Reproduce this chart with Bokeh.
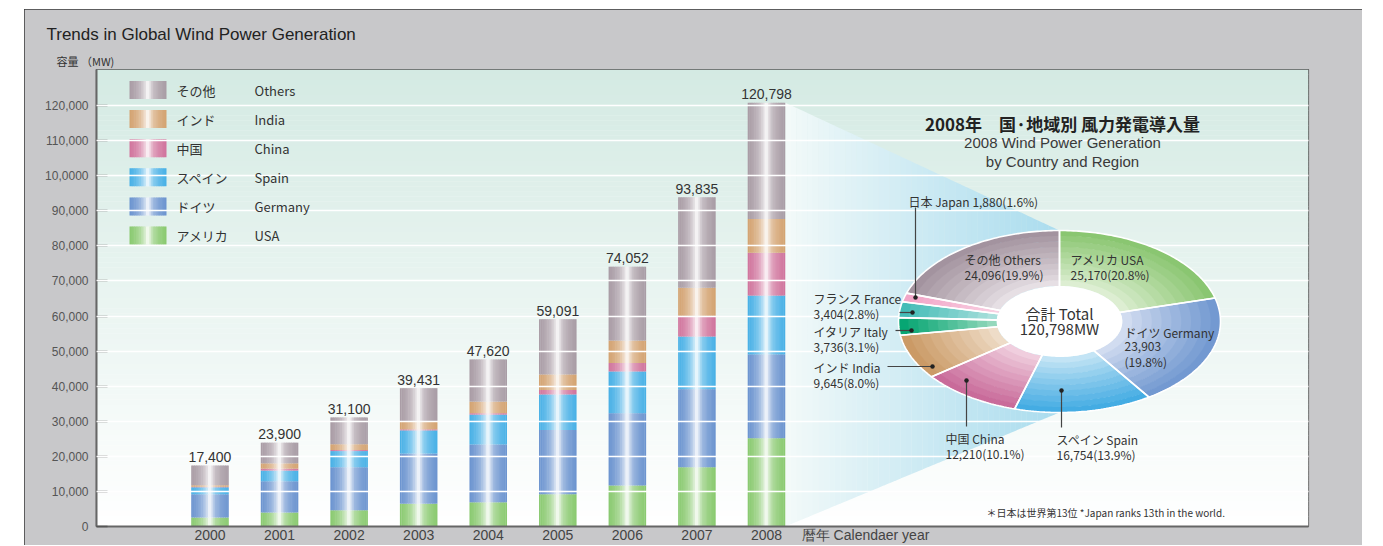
import numpy as np
from bokeh.plotting import figure
from bokeh.models import Range1d, FixedTicker, Title
from bokeh.core.properties import value
from bokeh.embed import file_html
from bokeh.resources import INLINE

# ---------------- data ----------------
years = [2000, 2001, 2002, 2003, 2004, 2005, 2006, 2007, 2008]
totals = [17400, 23900, 31100, 39431, 47620, 59091, 74052, 93835, 120798]
usa = [2600, 4000, 4600, 6500, 6900, 9200, 11700, 16900, 25170]
germany = [6600, 8900, 12300, 14300, 16500, 18300, 20600, 22250, 23903]
spain = [2000, 3050, 4600, 6600, 8500, 10150, 11900, 15000, 16754]
china = [150, 550, 300, 300, 400, 1250, 2400, 5900, 12210]
india = [400, 1500, 1650, 2300, 3300, 4450, 6400, 8000, 9645]
others = [t - (a + b + c + d + e) for t, a, b, c, d, e in zip(totals, usa, germany, spain, china, india)]

series_ja = ["アメリカ", "ドイツ", "スペイン", "中国", "インド", "その他"]
series_en = ["USA", "Germany", "Spain", "China", "India", "Others"]

pie_ja = ["アメリカ", "ドイツ", "スペイン", "中国", "インド", "イタリア", "フランス", "日本", "その他"]
pie_en = ["USA", "Germany", "Spain", "China", "India", "Italy", "France", "Japan", "Others"]
pie_mw = [25170, 23903, 16754, 12210, 9645, 3736, 3404, 1880, 24096]
pie_pct = [20.8, 19.8, 13.9, 10.1, 8.0, 3.1, 2.8, 1.6, 19.9]
pie_total = 120798

y_ticks = [0, 10000, 20000, 30000, 40000, 50000, 60000, 70000, 80000, 90000, 100000, 110000, 120000]
y_tick_labels = ["0", "10,000", "20,000", "30,000", "40,000", "50,000", "60,000", "70,000",
                 "80,000", "90,000", "10,0000", "110,000", "120,000"]
x_axis_title = "暦年  Calendaer year"

# ---------------- styles ----------------
bar_colors = ["#89c96f", "#6a93cf", "#47b0e6", "#d0739c", "#d3a270", "#a89ba4"]
pie_outer = ["#86c46c", "#6e96cf", "#3ea9e2", "#c76697", "#c99761", "#00a36f", "#3fbab5", "#f1a3c6", "#a08f9b"]
pie_inner = ["#e3f1d9", "#d8e1f2", "#cde8f6", "#f3d6e3", "#f1e1cf", "#9fdcc2", "#b3e3df", "#f9d3e4", "#ebe5e9"]

JP = "Noto Sans CJK JP"
SANS = "Liberation Sans"

W, H = 1338, 536
PX0, PY0 = 25, 10
FL, FR, FT, FB = 97, 1309, 70, 527
STEP = 69.56
X2000 = 210.5
BW = 0.54
K = 421.0 / 120000.0

x_start = years[0] - (X2000 - FL) / STEP
x_end = x_start + (FR - FL) / STEP
y_end = (FB - FT) / K


def page_x(xv):
    return FL + (xv - x_start) * STEP


def page_y(v):
    return FB - v * K


def hex2rgb(c):
    return np.array([int(c[i:i + 2], 16) for i in (1, 3, 5)], dtype=float)


def mix(c1, c2, f):
    a, b = hex2rgb(c1), hex2rgb(c2)
    r = a + (b - a) * f
    return "#%02x%02x%02x" % tuple(int(round(v)) for v in r)


p = figure(width=W, height=H, x_range=Range1d(x_start, x_end), y_range=Range1d(0, y_end),
           output_backend="svg", toolbar_location=None,
           min_border_left=FL - PX0, min_border_right=PX0 + W - FR,
           min_border_top=FT - PY0, min_border_bottom=PY0 + H - FB,
           background_fill_color="white", border_fill_color="#c8c8ca")
p.margin = (9, 0, -8, 24)
p.styles = {"outline": "1px solid #3a3a3a", "outline-offset": "-1px"}
p.extra_x_ranges = {"px": Range1d(FL, FR)}
p.extra_y_ranges = {"py": Range1d(FB, FT)}
PXY = dict(x_range_name="px", y_range_name="py")

# background vertical gradient
nb = 90
ys = np.linspace(FT, FB, nb + 1)
bg_cols = [mix("#d4eae3", "#ffffff", (k + 0.5) / nb) for k in range(nb)]
p.quad(left=FL, right=FR, top=ys[:-1], bottom=ys[1:] + 0.3, fill_color=bg_cols, line_color=None,
       level="image", **PXY)

# ---------------- pie geometry ----------------
CX, CY, RX, RY = 1060.0, 322.0, 161.0, 91.0
INNER = 0.39

# fan from the 2008 bar to the pie
fx0 = page_x(years[-1] + BW / 2)
fy_top0, fy_bot0 = page_y(totals[-1]), page_y(0)
fx1, fy_top1, fy_bot1 = CX, CY - RY, CY + RY
nf = 50
fxs, fys, fcs = [], [], []
for k in range(nf):
    ta = k / nf
    tb = min((k + 1.05) / nf, 1.0)
    xa, xb = fx0 + (fx1 - fx0) * ta, fx0 + (fx1 - fx0) * tb
    ua, ub = fy_top0 + (fy_top1 - fy_top0) * ta, fy_top0 + (fy_top1 - fy_top0) * tb
    la, lb = fy_bot0 + (fy_bot1 - fy_bot0) * ta, fy_bot0 + (fy_bot1 - fy_bot0) * tb
    fxs.append([xa, xb, xb, xa])
    fys.append([ua, ub, lb, la])
    fcs.append(mix("#f4faf9", "#aadcee", ((k + 0.5) / nf) ** 0.9))
p.patches(fxs, fys, fill_color=fcs, line_color=None, level="underlay", **PXY)

# ---------------- stacked gradient bars ----------------
ctrl_t = [0.0, 0.15, 0.3, 0.42, 0.5, 0.56, 0.65, 0.8, 1.0]
ctrl_w = [0.0, 0.12, 0.32, 0.62, 0.97, 0.7, 0.35, 0.15, 0.0]
NS = 22
tp = (np.arange(NS) + 0.5) / NS
wprof = np.interp(tp, ctrl_t, ctrl_w)

stack = [usa, germany, spain, china, india, others]
bx, bw, bb, bt, bc = [], [], [], [], []
for i, yr in enumerate(years):
    base = 0
    for s, vals in enumerate(stack):
        v = vals[i]
        for j in range(NS):
            bx.append(yr - BW / 2 + (j + 0.5) * BW / NS)
            bw.append(BW / NS * 1.35 if 0 < j < NS - 1 else BW / NS)
            bb.append(base)
            bt.append(base + v)
            bc.append(mix(bar_colors[s], "#ffffff", wprof[j]))
        base += v
p.vbar(x=bx, width=bw, bottom=bb, top=bt, fill_color=bc, line_color=None)

# totals above bars
p.text(x=years, y=[t + 3.5 / K for t in totals], text=[f"{t:,}" for t in totals],
       text_align="center", text_baseline="bottom", text_font=value(SANS),
       text_font_size="14px", text_color="#333333", level="overlay")

# ---------------- legend (manual, gradient swatches) ----------------
leg_y0, leg_dy = 90.5, 29.1
sw_l, sw_r, sw_h = 130.0, 167.0, 18.0
lx, lw, lt, lbm, lc = [], [], [], [], []
order = list(reversed(range(len(series_en))))
for r, s in enumerate(order):
    cy = leg_y0 + r * leg_dy
    for j in range(NS):
        lx.append(sw_l + (j + 0.5) * (sw_r - sw_l) / NS)
        lw.append((sw_r - sw_l) / NS * (1.35 if 0 < j < NS - 1 else 1.0))
        lt.append(cy - sw_h / 2)
        lbm.append(cy + sw_h / 2)
        lc.append(mix(bar_colors[s], "#ffffff", wprof[j]))
p.vbar(x=lx, width=lw, top=lt, bottom=lbm, fill_color=lc, line_color=None, **PXY)
p.text(x=[177] * 6, y=[leg_y0 + r * leg_dy for r in range(6)], text=[series_ja[s] for s in order],
       text_baseline="middle", text_font=value(JP), text_font_size="13px", text_color="#333333",
       level="overlay", **PXY)
p.text(x=[255] * 6, y=[leg_y0 + r * leg_dy for r in range(6)], text=[series_en[s] for s in order],
       text_baseline="middle", text_font=value(JP), text_font_size="13px", text_color="#333333",
       level="overlay", **PXY)

# ---------------- donut (elliptical) ----------------
cum = np.concatenate([[0], np.cumsum(pie_mw)]) / float(sum(pie_mw)) * 2 * np.pi
NR = 10
rx_, ry_, rc_ = [], [], []
ox, oy = [], []
for k in range(len(pie_mw)):
    a0, a1 = cum[k], cum[k + 1]
    npts = max(3, int(np.degrees(a1 - a0)) + 2)
    ang = np.linspace(a0, a1, npts)
    for q in range(NR):
        f0 = INNER + (1 - INNER) * q / NR
        f1 = min(INNER + (1 - INNER) * (q + 1.08) / NR, 1.0)
        xo = CX + RX * f1 * np.sin(ang)
        yo = CY - RY * f1 * np.cos(ang)
        xi = CX + RX * f0 * np.sin(ang[::-1])
        yi = CY - RY * f0 * np.cos(ang[::-1])
        rx_.append(np.concatenate([xo, xi]))
        ry_.append(np.concatenate([yo, yi]))
        rc_.append(mix(pie_inner[k], pie_outer[k], ((q + 0.5) / NR) ** 0.9))
    xo = CX + RX * np.sin(ang)
    yo = CY - RY * np.cos(ang)
    xi = CX + RX * INNER * 0.9 * np.sin(ang[::-1])
    yi = CY - RY * INNER * 0.9 * np.cos(ang[::-1])
    ox.append(np.concatenate([xo, xi]))
    oy.append(np.concatenate([yo, yi]))
p.patches(rx_, ry_, fill_color=rc_, line_color=None, level="annotation", **PXY)
p.patches(ox, oy, fill_alpha=0, line_color="white", line_width=1.6, level="annotation", **PXY)
th = np.linspace(0, 2 * np.pi, 180)
p.patch(CX + RX * INNER * np.sin(th), CY - RY * INNER * np.cos(th), fill_color="white",
        line_color=None, level="annotation", **PXY)

# leader lines + dots
segs = {7: (916, 208, 916, 298), 6: (900, 313, 913, 313), 5: (896, 331, 912, 331),
        4: (888, 367, 933, 367), 3: (967, 381, 967, 427), 2: (1062, 391, 1062, 428)}
dots = {7: (916, 298), 6: (913, 313), 5: (912, 331), 4: (933, 367), 3: (967, 381), 2: (1062, 391)}
p.segment(x0=[v[0] for v in segs.values()], y0=[v[1] for v in segs.values()],
          x1=[v[2] for v in segs.values()], y1=[v[3] for v in segs.values()],
          line_color="#444444", line_width=1.2, level="overlay", **PXY)
p.scatter(x=[v[0] for v in dots.values()], y=[v[1] for v in dots.values()], size=4.5,
          fill_color="#222222", line_color=None, level="overlay", **PXY)

# pie labels
lab_pos = {0: (1071, 260), 1: (1125, 333), 2: (1057, 440), 3: (946, 439), 4: (814, 368),
           5: (814, 332), 6: (814, 299), 8: (965, 260)}
tx, ty, tt = [], [], []
for k, (x0, y0) in lab_pos.items():
    tx.append(x0); ty.append(y0); tt.append(f"{pie_ja[k]} {pie_en[k]}")
    if k == 1:
        tx += [x0, x0]; ty += [y0 + 14, y0 + 29]
        tt += [f"{pie_mw[k]:,}", f"({pie_pct[k]}%)"]
    else:
        tx.append(x0); ty.append(y0 + 14.5); tt.append(f"{pie_mw[k]:,}({pie_pct[k]}%)")
tx.append(909); ty.append(202); tt.append(f"{pie_ja[7]} {pie_en[7]}  {pie_mw[7]:,}({pie_pct[7]}%)")
p.text(x=tx, y=ty, text=tt, text_baseline="middle", text_font=value(JP), text_font_size="12px",
       text_color="#333333", level="overlay", **PXY)
p.text(x=[CX, CX], y=[314, 329], text=["合計 Total", f"{pie_total:,}MW"], text_align="center",
       text_baseline="middle", text_font=value(JP), text_font_size="15px", text_color="#333333",
       level="overlay", **PXY)

# pie title
p.text(x=[1063], y=[124], text=["2008年　国·地域別 風力発電導入量"], text_align="center",
       text_baseline="middle", text_font=value(JP), text_font_size="17px", text_font_style="bold",
       text_color="#222222", level="overlay", **PXY)
p.text(x=[1063, 1063], y=[143, 162], text=["2008 Wind Power Generation", "by Country and Region"],
       text_align="center", text_baseline="middle", text_font=value(SANS), text_font_size="15px",
       text_color="#3a3a3a", level="overlay", **PXY)
p.text(x=[987], y=[513], text=["＊日本は世界第13位  *Japan ranks 13th in the world."],
       text_baseline="middle", text_font=value(JP), text_font_size="10px", text_color="#333333",
       level="overlay", **PXY)

# ---------------- axes ----------------
p.yaxis.ticker = FixedTicker(ticks=y_ticks)
p.yaxis.major_label_overrides = {t: l for t, l in zip(y_ticks, y_tick_labels)}
p.yaxis.major_tick_in = 11
p.yaxis.major_tick_out = 0
p.yaxis.minor_tick_line_color = None
p.yaxis.major_tick_line_color = "#555555"
p.yaxis.major_tick_line_width = 1.5
p.yaxis.axis_line_color = "#666666"
p.yaxis.axis_line_width = 2
p.yaxis.major_label_standoff = 8
p.yaxis.major_label_text_font = SANS
p.yaxis.major_label_text_font_size = "12px"
p.yaxis.major_label_text_color = "#555555"

# the x-axis title sits on the tick-label row, to the right of 2008
cal_x = x_start + (868 - FL) / STEP
p.xaxis.ticker = FixedTicker(ticks=years + [cal_x])
xo_map = {y: str(y) for y in years}
xo_map[cal_x] = x_axis_title
p.xaxis.major_label_overrides = xo_map
p.xaxis.major_tick_line_color = None
p.xaxis.minor_tick_line_color = None
p.xaxis.axis_line_color = "#666666"
p.xaxis.axis_line_width = 2
p.xaxis.major_label_standoff = -6
p.xaxis.major_label_text_font = SANS
p.xaxis.major_label_text_font_size = "14px"
p.xaxis.major_label_text_color = "#444444"

p.xgrid.grid_line_color = None
p.ygrid.grid_line_color = "white"
p.ygrid.grid_line_width = 1.6
p.ygrid.level = "guide"
p.outline_line_color = "#555555"
p.outline_line_width = 1.2

# ---------------- texts above the frame ----------------
p.add_layout(Title(text="容量 （MW)", align="left", offset=-40, standoff=2, text_font=JP,
                   text_font_size="11px", text_font_style="normal", text_color="#333333"), "above")
p.add_layout(Title(text="Trends in Global Wind Power Generation", align="left", offset=-50, standoff=12,
                   text_font=SANS, text_font_size="17px", text_font_style="normal",
                   text_color="#222222"), "above")

open("out.html", "w").write(file_html(p, INLINE))
